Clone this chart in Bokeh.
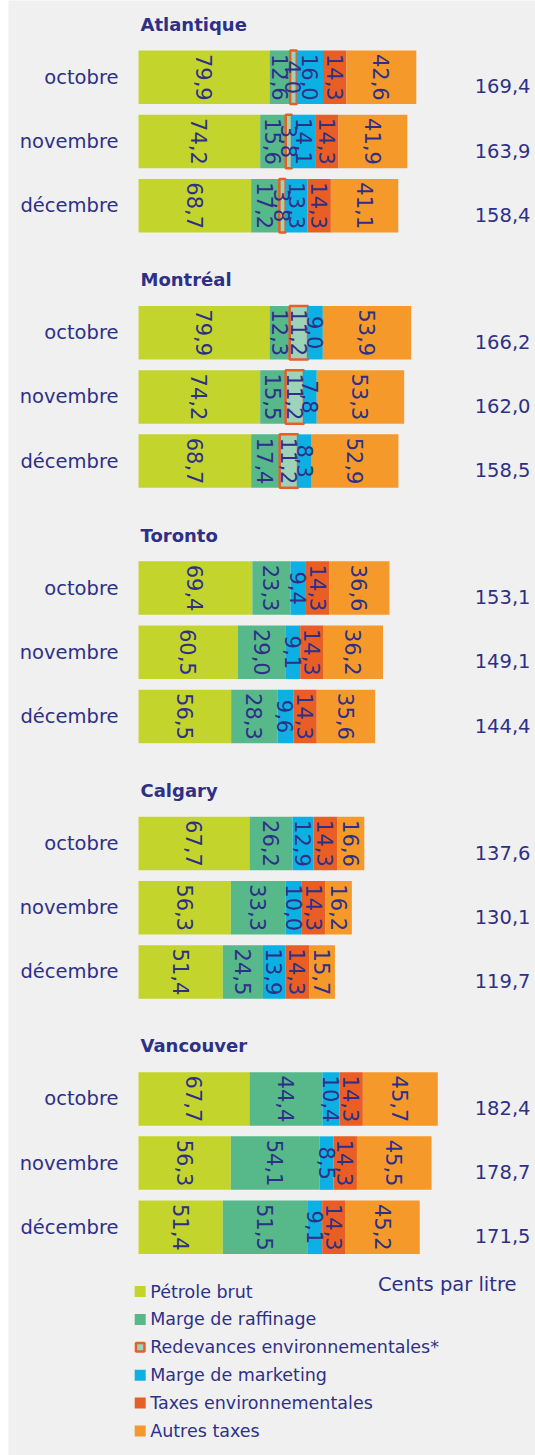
from bokeh.plotting import figure
from bokeh.models import Range1d, ColumnDataSource
from bokeh.core.properties import value
from bokeh.embed import file_html
from bokeh.resources import INLINE

# ---------------- data ----------------
cities = ["Atlantique", "Montréal", "Toronto", "Calgary", "Vancouver"]
months = ["octobre", "novembre", "décembre"]
components = ["Pétrole brut", "Marge de raffinage", "Redevances environnementales*",
              "Marge de marketing", "Taxes environnementales", "Autres taxes"]
colors = ["#c3d52d", "#57b88a", "#9dd3b9", "#0db0e3", "#e95e24", "#f59a2a"]

# values city-major: (Atlantique oct, nov, déc, Montréal oct, ...)
petrole = [79.9, 74.2, 68.7, 79.9, 74.2, 68.7, 69.4, 60.5, 56.5, 67.7, 56.3, 51.4, 67.7, 56.3, 51.4]
raffinage = [12.6, 15.6, 17.2, 12.3, 15.5, 17.4, 23.3, 29.0, 28.3, 26.2, 33.3, 24.5, 44.4, 54.1, 51.5]
redevances = [4.0, 3.8, 3.8, 11.2, 11.2, 11.2, 0, 0, 0, 0, 0, 0, 0, 0, 0]
marketing = [16.0, 14.1, 13.3, 9.0, 7.8, 8.3, 9.4, 9.1, 9.6, 12.9, 10.0, 13.9, 10.4, 8.5, 9.1]
taxes_env = [14.3, 14.3, 14.3, 0, 0, 0, 14.3, 14.3, 14.3, 14.3, 14.3, 14.3, 14.3, 14.3, 14.3]
autres = [42.6, 41.9, 41.1, 53.9, 53.3, 52.9, 36.6, 36.2, 35.6, 16.6, 16.2, 15.7, 45.7, 45.5, 45.2]
totals = [169.4, 163.9, 158.4, 166.2, 162.0, 158.5, 153.1, 149.1, 144.4,
          137.6, 130.1, 119.7, 182.4, 178.7, 171.5]
unit_label = "Cents par litre"

series = [petrole, raffinage, redevances, marketing, taxes_env, autres]

# ---------------- layout ----------------
W, H = 535, 1455
LEFT_BORDER = 8
FW = W - LEFT_BORDER       # frame width
X0_PX = 130.0              # frame px where value 0 sits
PX_PER_UNIT = 1.64
FIRST_BAR_Y = 76.8
GROUP_PITCH = 255.4
BAR_PITCH = 64.2
BAR_H = 53.5

NAVY = "#2e3087"
BG = "#f0f0f0"
FONT = "DejaVu Sans"

x_start = -X0_PX / PX_PER_UNIT
x_end = (FW - X0_PX) / PX_PER_UNIT

p = figure(width=W, height=H, output_backend="svg", toolbar_location=None,
           x_range=Range1d(x_start, x_end), y_range=Range1d(H, 0),
           min_border=0, min_border_left=LEFT_BORDER,
           x_axis_location=None, y_axis_location=None)
p.grid.visible = False
p.outline_line_color = None
p.background_fill_color = BG
p.border_fill_color = "white"

n = len(totals)
ys = []
for g in range(len(cities)):
    for m in range(len(months)):
        ys.append(FIRST_BAR_Y + g * GROUP_PITCH + m * BAR_PITCH)


def fmt(v):
    return f"{v:.1f}".replace(".", ",")


left = [0.0] * n
lab_x, lab_y, lab_t = [], [], []
for k, vals in enumerate(series):
    right = [l + v for l, v in zip(left, vals)]
    idx = [i for i in range(n) if vals[i] > 0]
    src = ColumnDataSource(dict(y=[ys[i] for i in idx], left=[left[i] for i in idx],
                                right=[right[i] for i in idx]))
    if k == 2:
        p.hbar(y="y", left="left", right="right", height=BAR_H, source=src,
               fill_color=colors[k], line_color="#e95e24", line_width=2.5)
    else:
        p.hbar(y="y", left="left", right="right", height=BAR_H, source=src,
               fill_color=colors[k], line_color=None)
    for i in idx:
        lab_x.append((left[i] + right[i]) / 2)
        lab_y.append(ys[i])
        lab_t.append(fmt(vals[i]))
    left = right

p.text(x=lab_x, y=lab_y, text=lab_t, angle=-1.5707963, text_align="center",
       text_baseline="middle", text_color=NAVY, text_font=value(FONT),
       text_font_size="21px")

# month labels
p.text(x=[0] * n, y=ys, text=[months[i % 3] for i in range(n)], x_offset=-20,
       text_align="right", text_baseline="middle", text_color=NAVY,
       text_font=value(FONT), text_font_size="19.5px")

# totals
p.text(x=[x_end] * n, y=[y + 9 for y in ys], text=[fmt(t) for t in totals], x_offset=-5,
       text_align="right", text_baseline="middle", text_color=NAVY,
       text_font=value(FONT), text_font_size="19.5px")

# city titles
p.text(x=[0] * len(cities), y=[ys[g * 3] - 53 for g in range(len(cities))], text=cities,
       x_offset=2, text_align="left", text_baseline="middle", text_color=NAVY,
       text_font=value(FONT), text_font_size="18px", text_font_style="bold")

# legend
LEG_Y0 = 1291.0
LEG_PITCH = 27.9
leg_x = 1.7 / PX_PER_UNIT
leg_ys = [LEG_Y0 + i * LEG_PITCH for i in range(len(components))]
for i, c in enumerate(components):
    if i == 2:
        p.scatter(x=[leg_x], y=[leg_ys[i]], marker="square", size=8.5,
                  fill_color=colors[i], line_color="#e95e24", line_width=2.5)
    else:
        p.scatter(x=[leg_x], y=[leg_ys[i]], marker="square", size=11,
                  fill_color=colors[i], line_color=None)
p.text(x=[leg_x] * len(components), y=leg_ys, text=components, x_offset=10,
       text_align="left", text_baseline="middle", text_color=NAVY,
       text_font=value(FONT), text_font_size="17.5px")

p.text(x=[x_end], y=[LEG_Y0 - 7], text=[unit_label], x_offset=-19,
       text_align="right", text_baseline="middle", text_color=NAVY,
       text_font=value(FONT), text_font_size="19.5px")

open("out.html", "w").write(file_html(p, INLINE))
